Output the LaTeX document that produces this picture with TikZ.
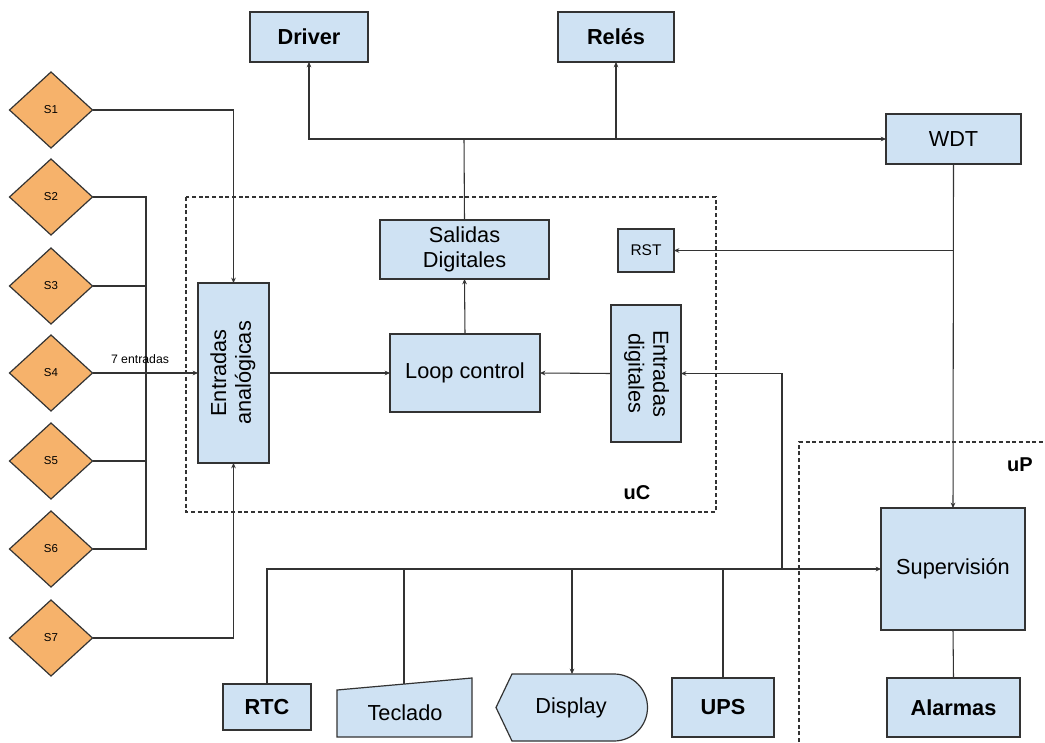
\documentclass[tikz,border=0pt]{standalone}
\usepackage{fontspec}
\setmainfont{Liberation Sans}
\usetikzlibrary{shapes.geometric,arrows.meta,calc}
\definecolor{boxfill}{HTML}{CFE2F3}
\definecolor{sensfill}{HTML}{F6B26B}
\definecolor{edge}{HTML}{333333}
\tikzset{
  block/.style={draw=edge, fill=boxfill, line width=0.9pt, inner sep=0pt, outer sep=0pt,
    font=\fontsize{16.3}{18.5}\selectfont, align=center},
  bblock/.style={block, font=\bfseries\fontsize{16.3}{18.5}\selectfont},
  wh/.style 2 args={minimum width=#1*0.75pt, minimum height=#2*0.75pt},
  outline/.style={draw=edge, fill=boxfill, line width=0.9pt},
  plain/.style={inner sep=0pt, font=\fontsize{16.3}{18.5}\selectfont},
  sensor/.style={diamond, draw=edge, fill=sensfill, line width=0.9pt, minimum width=62.25pt,
    minimum height=57pt, inner sep=0pt, outer sep=0pt, font=\fontsize{8.6}{10}\selectfont},
  wire/.style={draw=edge, line width=0.8pt},
  arr/.style={wire, -{Stealth[length=4pt,width=3.5pt]}},
  frame/.style={draw=edge, line width=0.8pt, dash pattern=on 3pt off 2pt},
  tag/.style={inner sep=0pt, font=\bfseries\fontsize{15}{18}\selectfont},
}
\begin{document}
\begin{tikzpicture}[x=0.75pt,y=-0.75pt]
\useasboundingbox (0,0) rectangle (1045,742);

% dashed frames of the two processors
\draw[frame] (186,197) rectangle (716,512);
\draw[frame] (799,742) -- (799,442) -- (1045,442);
\node[tag] (uc) at (637,493) {uC};
\node[tag] (up) at (1020,465) {uP};

% outputs and watchdog
\node[bblock, wh={118}{50}] (drv) at (309,37) {Driver};
\node[bblock, wh={116}{50}] (rel) at (616,37) {Relés};
\node[block, wh={135}{50}] (wdt) at (953.5,139) {WDT};

% microcontroller blocks
\node[block, wh={169}{59}] (sd) at (464.5,249.5) {Salidas\\Digitales};
\node[block, wh={150}{78}] (loop) at (465,373) {Loop control};
\node[block, wh={71}{180}] (ea) at (233.5,373)
  {\rotatebox{90}{\begin{tabular}{@{}c@{}}Entradas\\analógicas\end{tabular}}};
\node[block, wh={70}{137}] (ed) at (646,373.5)
  {\rotatebox{-90}{\begin{tabular}{@{}c@{}}Entradas\\digitales\end{tabular}}};
\node[block, wh={56}{43}, font=\fontsize{11.6}{14}\selectfont] (rst) at (646,250.5) {RST};

% supervision processor
\node[block, wh={144}{122}] (sup) at (953,569) {Supervisión};
\node[bblock, wh={133}{59}] (alm) at (953.5,707.5) {Alarmas};

% peripherals
\node[bblock, wh={88}{46}] (rtc) at (267,707) {RTC};
\node[bblock, wh={102}{59}] (ups) at (723,707.5) {UPS};
\draw[outline] (337,737) -- (472,737) -- (472,678) -- (337,690) -- cycle;
\node[plain] (tec) at (405,713) {Teclado};
\coordinate (tectop) at (404,684);
\draw[outline] (496,707.5) -- (512,674) -- (614,674)
  arc[start angle=90, end angle=-90, radius=25.125pt] -- (512,741) -- cycle;
\node[plain] (dsp) at (571,708) {Display};
\coordinate (dsptop) at (572,674);

% sensors
\foreach \i/\y in {1/110,2/197,3/286,4/373,5/461,6/549,7/638}
  \node[sensor] (s\i) at (51,\y) {S\i};

% sensor wiring
\coordinate (j2) at (146,197);
\coordinate (j3) at (146,286);
\coordinate (j5) at (146,461);
\coordinate (j6) at (146,549);
\draw[wire] (s2.east) -- (j2) -- (j6) -- (s6.east);
\draw[wire] (s3.east) -- (j3);
\draw[wire] (s5.east) -- (j5);
\draw[arr] (s4.east) -- (ea.west);
\node[inner sep=0pt, font=\fontsize{9.2}{11}\selectfont] (n7) at (140,359) {7 entradas};
\draw[arr] (s1.east) -| (ea.north);
\draw[arr] (s7.east) -| (ea.south);

% internal flow
\draw[arr] (ea.east) -- (loop.west);
\draw[arr] (ed.west) -- (loop.east);
\draw[arr] (loop.north) -- (sd.south);

% output bus
\coordinate (tj) at (464,139);
\draw[wire] (sd.north) -- (tj);
\draw[arr] (tj) -| (drv.south);
\draw[arr] (tj) -| (rel.south);
\draw[arr] (tj) -- (wdt.west);

% watchdog lines
\draw[arr] (wdt.south) -- (sup.north);
\draw[arr] (wdt.south |- rst.east) -- (rst.east);
\draw[wire] (sup.south) -- (alm.north);

% peripheral bus
\coordinate (bd) at (782,569);
\draw[arr] (rtc.north) |- (sup.west);
\draw[wire] (tectop) -- (tectop |- sup.west);
\draw[arr] (dsptop |- sup.west) -- (dsptop);
\draw[wire] (ups.north) -- (ups.north |- sup.west);
\draw[arr] (bd) |- (ed.east);
\end{tikzpicture}
\end{document}
